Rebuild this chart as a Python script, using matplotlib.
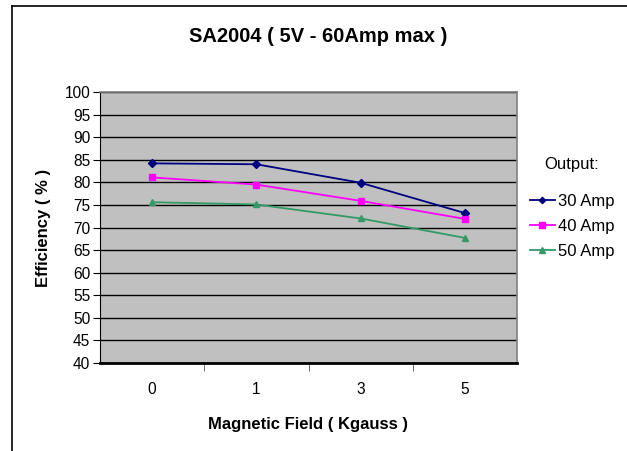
import matplotlib
matplotlib.use('Agg')
import matplotlib.pyplot as plt
from matplotlib.lines import Line2D

plt.rcParams['font.family'] = ['Liberation Sans', 'DejaVu Sans']

fields = ['0', '1', '3', '5']
amp30 = [84.2, 84.0, 79.9, 73.2]
amp40 = [81.1, 79.5, 75.9, 71.9]
amp50 = [75.6, 75.1, 72.0, 67.7]

W, H = 627, 451
fig = plt.figure(figsize=(W / 100, H / 100), dpi=100)

# outer chart frame (only left and top edges visible)
fig.add_artist(Line2D([12 / W, 12 / W], [0, 1 - 6 / H], color='black', lw=1.2))
fig.add_artist(Line2D([12 / W, 1], [1 - 6 / H, 1 - 6 / H], color='black', lw=1.2))

ax = fig.add_axes([100 / W, (H - 363) / H, 417 / W, (363 - 92) / H])
ax.set_facecolor('#C0C0C0')

x = range(len(fields))
ax.plot(x, amp30, color='#000080', marker='D', markersize=4, lw=1.3, label='30 Amp')
ax.plot(x, amp40, color='#FF00FF', marker='s', markersize=5, lw=1.3, label='40 Amp')
ax.plot(x, amp50, color='#339966', marker='^', markersize=5, lw=1.3, label='50 Amp')

ax.set_xlim(-0.5, 3.5)
ax.set_ylim(40, 100)
ax.set_yticks(range(40, 101, 5))
ax.set_xticks(list(x))
ax.set_xticklabels(fields)
ax.set_xticks([0.5, 1.5, 2.5], minor=True)
ax.tick_params(axis='x', which='major', length=0, pad=14, labelsize=11.2)
ax.tick_params(axis='x', which='minor', length=6, direction='out', color='#555555')
ax.tick_params(axis='y', length=5, direction='out', labelsize=11.2, pad=2)
ax.grid(axis='y', color='black', lw=1)
ax.set_axisbelow(True)

for side in ['top', 'right']:
    ax.spines[side].set_color('#808080')
    ax.spines[side].set_linewidth(1.2)
ax.spines['left'].set_color('black')
ax.spines['bottom'].set_color('black')
ax.spines['bottom'].set_linewidth(2)

ax.set_xlabel('Magnetic Field ( Kgauss )', fontsize=12, fontweight='bold', labelpad=14)
ax.set_ylabel('Efficiency ( % )', fontsize=12, fontweight='bold')
ax.yaxis.set_label_coords(-0.117, 0.5)
fig.text(318 / W, 1 - 37 / H, 'SA2004 ( 5V - 60Amp max )', fontsize=14.5,
         fontweight='bold', ha='center', va='center')

fig.text(572 / W, 1 - 165 / H, 'Output:', fontsize=12, ha='center', va='center')
leg = fig.legend(loc='upper left', bbox_to_anchor=(523 / W, 1 - 187 / H), frameon=False,
                 fontsize=12, borderaxespad=0, handlelength=1.5, handletextpad=0.2,
                 labelspacing=0.62, markerscale=0.8)

fig.savefig('out.png', dpi=100)
